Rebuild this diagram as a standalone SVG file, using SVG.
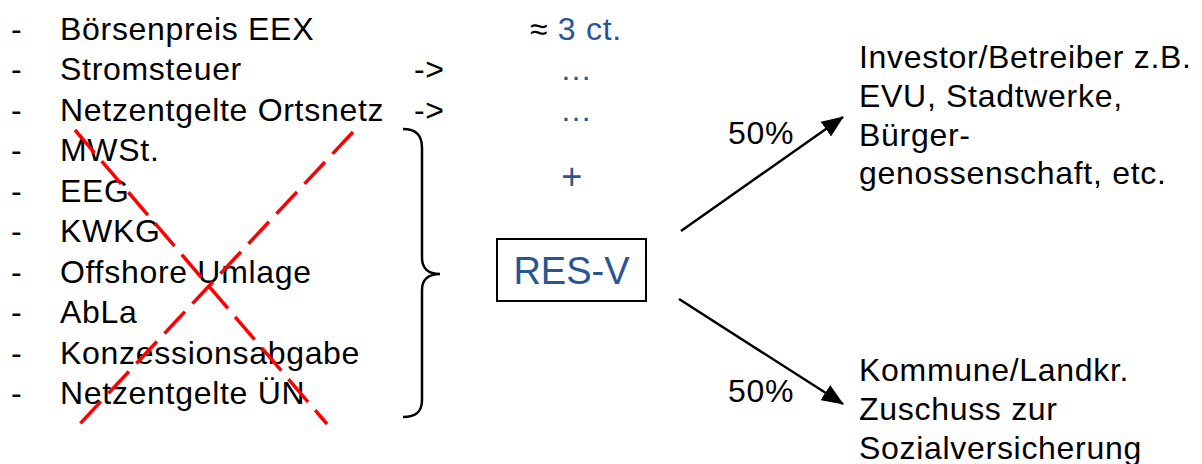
<svg xmlns="http://www.w3.org/2000/svg" width="1202" height="464" viewBox="0 0 1202 464">
<defs>
<style>
text{font-family:"Liberation Sans",Arial,sans-serif;font-size:32px;fill:#000;letter-spacing:0.7px}
.blue{fill:#2B5592}
.cross{stroke:#FF0000;stroke-width:3.5;stroke-dasharray:30 11;fill:none}
.conn{stroke:#000;stroke-width:2.5;fill:none}
</style>
<marker id="arrow" viewBox="0 0 22 18" refX="21" refY="9" markerWidth="22" markerHeight="18" markerUnits="userSpaceOnUse" orient="auto">
<path d="M0,0 L22,9 L0,18 z" fill="#000"/>
</marker>
</defs>
<rect width="1202" height="464" fill="#fff"/>
<g id="list">
<text x="11" y="39.5">-</text><text x="60" y="39.5">Börsenpreis EEX</text>
<text x="11" y="80">-</text><text x="60" y="80">Stromsteuer</text>
<text x="11" y="120.5">-</text><text x="60" y="120.5">Netzentgelte Ortsnetz</text>
<text x="11" y="161">-</text><text x="60" y="161">MWSt.</text>
<text x="11" y="201.5">-</text><text x="60" y="201.5">EEG</text>
<text x="11" y="242">-</text><text x="60" y="242">KWKG</text>
<text x="11" y="282.5">-</text><text x="60" y="282.5">Offshore Umlage</text>
<text x="11" y="323">-</text><text x="60" y="323">AbLa</text>
<text x="11" y="363.5">-</text><text x="60" y="363.5">Konzessionsabgabe</text>
<text x="11" y="404">-</text><text x="60" y="404">Netzentgelte ÜN</text>
</g>
<g id="values">
<text x="530" y="39.5">≈ <tspan class="blue">3 ct.</tspan></text>
<text x="414" y="80">-&gt;</text>
<text x="414" y="120.5">-&gt;</text>
<text class="blue" x="560" y="80">…</text>
<text class="blue" x="560" y="120.5">…</text>
<text class="blue" x="572" y="189" text-anchor="middle" style="font-size:36px">+</text>
</g>
<g id="cross">
<line class="cross" x1="75" y1="130" x2="327" y2="424"/>
<line class="cross" x1="353" y1="132" x2="76" y2="428"/>
</g>
<g id="brace">
<path class="conn" d="M403,129 C416,129 422,135 422,148 L422,258 C422,268 428,274 440,274 C428,274 422,280 422,290 L422,400 C422,412 416,417 403,417"/>
</g>
<g id="resv">
<rect x="497" y="239" width="149" height="62" fill="#fff" stroke="#000" stroke-width="2"/>
<text class="blue" x="571.5" y="284" text-anchor="middle" style="font-size:38px;letter-spacing:0">RES-V</text>
</g>
<g id="investor">
<text x="859" y="68">Investor/Betreiber z.B.</text>
<text x="859" y="107">EVU, Stadtwerke,</text>
<text x="859" y="146">Bürger-</text>
<text x="859" y="184">genossenschaft, etc.</text>
</g>
<g id="kommune">
<text x="859" y="381">Kommune/Landkr.</text>
<text x="859" y="420">Zuschuss zur</text>
<text x="859" y="459">Sozialversicherung</text>
</g>
<g id="connectors">
<line class="conn" x1="681" y1="231" x2="843" y2="117" marker-end="url(#arrow)"/>
<line class="conn" x1="679" y1="299" x2="843" y2="404" marker-end="url(#arrow)"/>
<text x="728" y="144">50%</text>
<text x="728" y="402">50%</text>
</g>
</svg>
